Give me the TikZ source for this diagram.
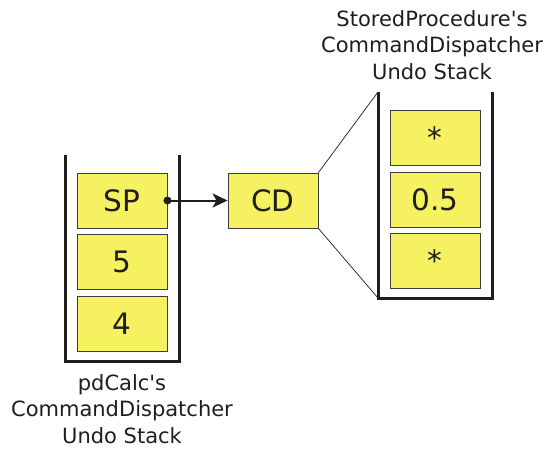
\documentclass[tikz,border=0pt]{standalone}
\usepackage{fontspec}
\setmainfont{DejaVu Sans}
\usepackage{tikz}
\usetikzlibrary{arrows.meta}
\definecolor{cellfill}{RGB}{245,241,96}
\definecolor{cellline}{RGB}{60,60,60}
\definecolor{ink}{RGB}{30,30,30}
\tikzstyle{cell}=[draw=cellline, fill=cellfill, line width=0.9pt, inner sep=0pt, minimum width=90pt, minimum height=55pt, text=ink, font=\fontsize{29.5}{32}\selectfont]
\tikzstyle{wall}=[draw=ink, line width=3pt]
\tikzstyle{caption}=[align=center, text=ink, font=\fontsize{21}{26.5}\selectfont]

\begin{document}
\begin{tikzpicture}[x=1pt, y=-1pt]
        \useasboundingbox (0,0) rectangle (556,451);
        % pdCalc stack
        \draw[wall] (65,155) -- (65,361) -- (179,361) -- (179,155);
        \node[cell]                             (SP) at (122,200.5) {SP};
        \node[cell]                             (N5) at (122,262) {5};
        \node[cell]                             (N4) at (122,324) {4};
        \node[caption]                          (Lcap) at (122,409) {pdCalc\textquotesingle s\\CommandDispatcher\\Undo Stack};
        % stored procedure stack
        \coordinate (Rtop) at (378,92);
        \coordinate (Rbot) at (378,298);
        \draw[wall] (Rtop) -- (Rbot) -- (492,298) -- (492,92);
        \node[cell]                             (S1) at (435,138) {*};
        \node[cell]                             (S2) at (435,200) {0.5};
        \node[cell]                             (S3) at (435,261) {*};
        \node[caption]                          (Rcap) at (432,45) {StoredProcedure\textquotesingle s\\CommandDispatcher\\Undo Stack};
        % dispatcher
        \node[cell]                             (CD) at (273,200.5) {CD};
        \fill[ink] (SP.east) circle (4pt);
        \draw[ink, line width=2pt, -{Stealth[length=15pt, width=14pt, inset=4pt]}] (SP.east) -- (CD.west);
        \draw[ink, line width=0.7pt] (CD.north east) -- (Rtop);
        \draw[ink, line width=0.7pt] (CD.south east) -- (Rbot);
    \end{tikzpicture}
\end{document}
